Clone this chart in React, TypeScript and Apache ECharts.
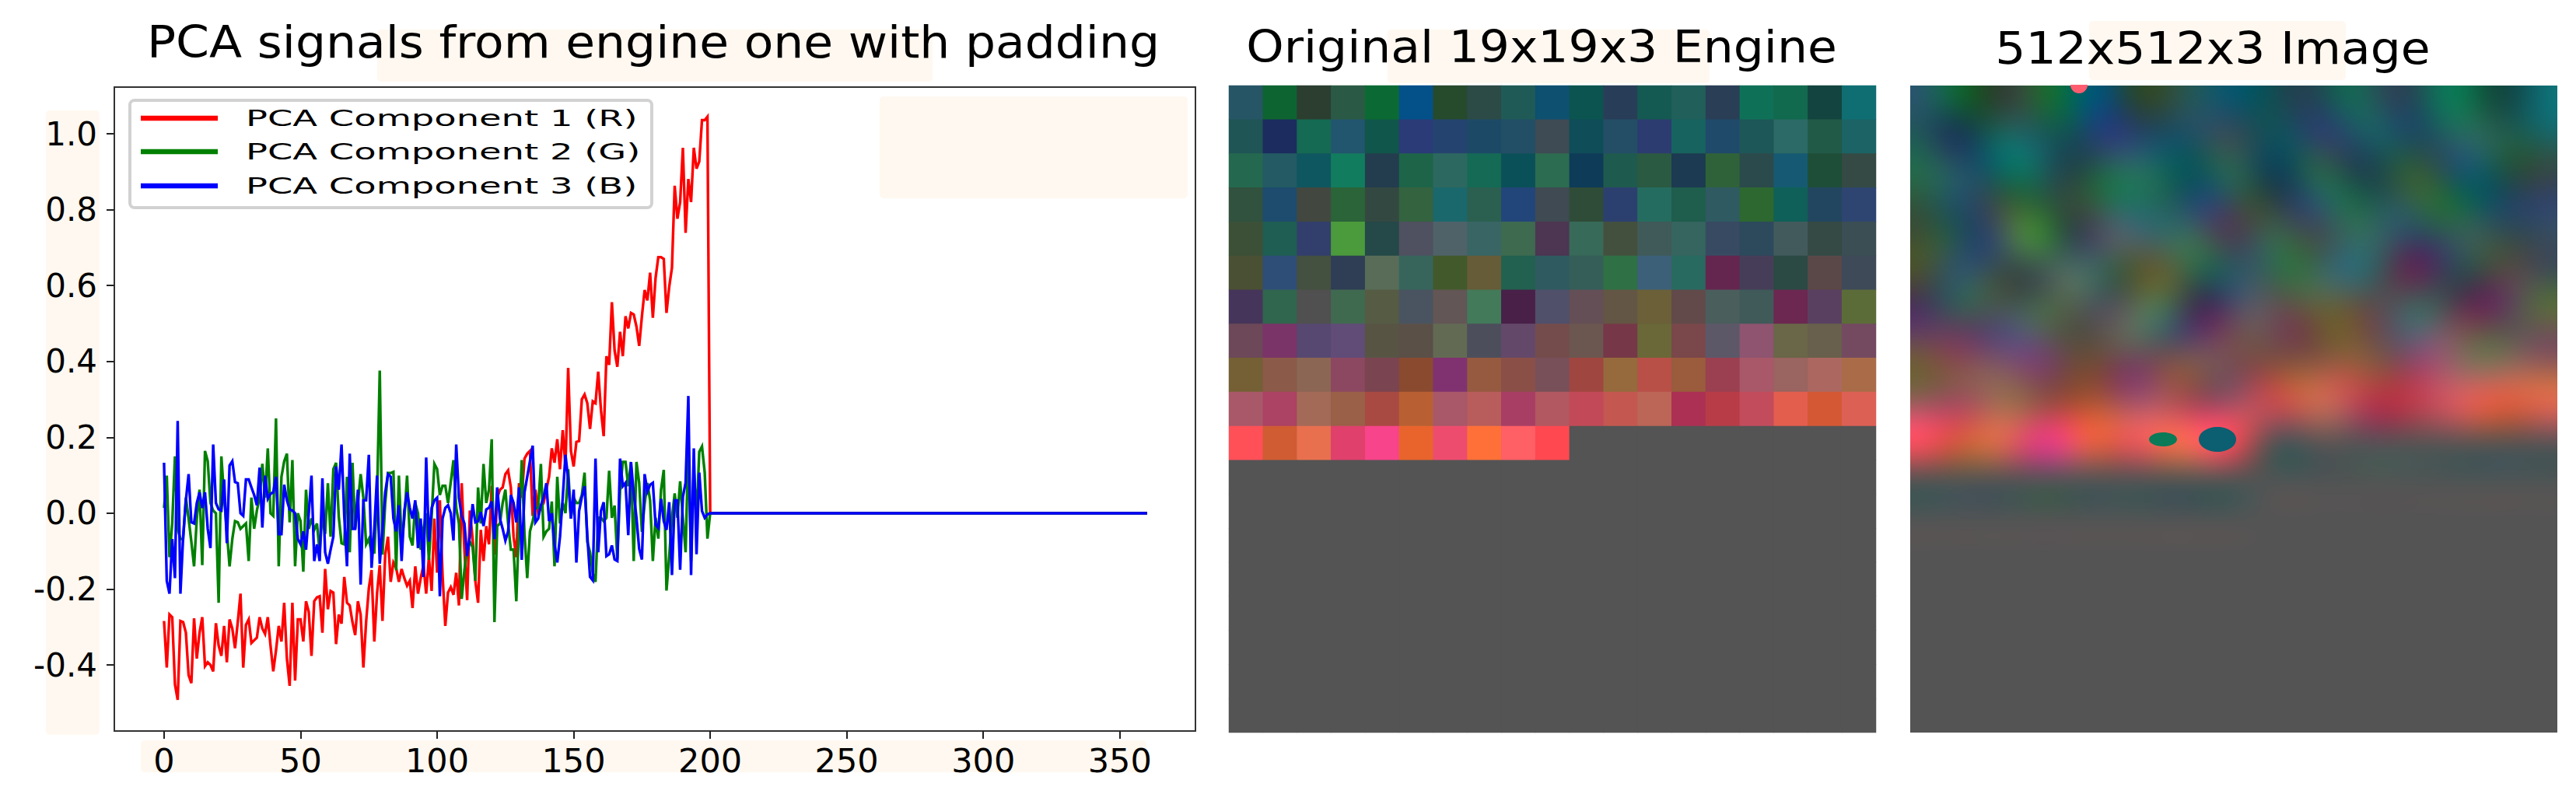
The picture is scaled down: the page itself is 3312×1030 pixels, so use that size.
import React, { useEffect, useRef } from "react";
import * as echarts from "echarts";

const panelTitles = ["PCA signals from engine one with padding", "Original 19x19x3 Engine", "512x512x3 Image"];
const seriesNames = ["PCA Component 1 (R)", "PCA Component 2 (G)", "PCA Component 3 (B)"];
const seriesColors = ["#ff0000", "#008000", "#0000ff"];
const xTickValues = [0, 50, 100, 150, 200, 250, 300, 350];
const yTickValues = [-0.4, -0.2, 0, 0.2, 0.4, 0.6, 0.8, 1.0];

const component1 = [
  -.284,-.407,-.267,-.274,-.451,-.492,-.284,-.287,-.315,-.427,-.448,-.277,-.383,-.315,-.274,-.403,-.393,-.400,-.417,-.290,
  -.349,-.376,-.297,-.393,-.280,-.304,-.356,-.287,-.212,-.407,-.294,-.280,-.342,-.335,-.328,-.274,-.304,-.318,-.274,-.349,
  -.417,-.362,-.297,-.338,-.236,-.383,-.455,-.236,-.441,-.280,-.280,-.338,-.232,-.260,-.376,-.232,-.222,-.219,-.315,-.147,
  -.253,-.205,-.209,-.345,-.267,-.291,-.168,-.236,-.243,-.287,-.321,-.232,-.267,-.407,-.287,-.198,-.150,-.338,-.212,-.137,
  -.284,-.109,-.062,-.181,-.130,-.144,-.181,-.147,-.171,-.191,-.178,-.250,-.140,-.212,-.171,-.137,-.212,-.116,-.205,-.014,
  -.157,.034,-.164,-.297,-.209,-.195,-.215,-.157,-.243,.079,-.096,-.229,.007,-.068,-.178,-.236,-.044,-.126,-.034,-.082,
  .072,-.109,.041,.062,.068,.103,.113,.068,-.062,-.116,.079,.041,.144,.157,.164,-.007,.062,0,.014,.027,
  .062,.096,.171,.133,.195,.116,.219,.123,.383,.164,.123,.188,.190,.300,.313,.290,.222,.295,.290,.373,
  .272,.203,.414,.391,.556,.428,.386,.478,.414,.519,.487,.528,.524,.492,.441,.519,.588,.561,.634,.515,
  .620,.675,.675,.670,.528,.597,.647,.863,.776,.820,.963,.739,.881,.820,.963,.908,.927,1.036,1.036,1.045,
];
const component2 = [
  .014,.099,-.116,-.027,.150,-.041,-.068,-.068,.041,-.014,-.075,-.140,-.014,.062,-.137,.164,.137,.027,.007,0,
  -.236,.150,.041,-.048,-.140,-.068,-.021,-.024,-.041,-.034,-.027,-.126,.041,-.041,.007,.041,.130,.041,.171,0,
  -.007,.250,-.140,.096,.137,.157,-.024,.140,-.140,0,-.021,-.154,.062,-.041,-.014,-.044,-.027,-.103,0,-.055,
  .079,-.062,.116,.133,-.010,-.079,-.082,.096,-.103,.133,-.041,.027,.103,.041,-.082,-.068,-.103,-.103,.041,.376,
  -.109,.027,.106,.106,.109,-.150,.099,-.075,-.014,.099,-.062,-.085,.027,0,-.096,-.041,0,-.123,-.007,.130,
  .116,.048,.072,.072,.027,.082,.140,.014,-.027,-.226,-.150,-.096,-.075,-.089,-.178,.068,-.027,.130,.027,.062,
  .195,-.287,-.034,-.027,.027,.062,-.027,-.096,-.096,-.232,-.027,.140,-.055,-.171,-.048,-.021,.014,.014,.130,-.062,
  -.048,-.041,.031,-.140,.096,-.027,.027,0,.116,-.014,.041,.027,.027,.048,.107,-.076,-.103,-.158,-.181,-.012,
  -.012,-.021,-.012,.112,-.012,.020,-.122,.061,.135,.135,.071,.135,-.126,.135,.080,-.049,.025,.080,.034,-.126,
  -.012,-.067,.061,.114,-.204,-.113,-.012,.052,-.012,.084,-.012,-.103,.180,-.126,.116,-.012,.162,.176,.107,-.067,
];
const component3 = [
  .133,-.178,-.212,-.068,-.171,.243,-.212,-.062,.034,.103,-.024,-.027,.027,.055,.014,.055,-.041,-.092,.181,.027,
  .010,.007,.089,-.079,.126,.137,.082,.079,0,-.007,.089,.089,.068,.048,.021,.120,-.038,.099,.038,.051,
  .055,.096,-.055,-.055,.075,.034,.010,.007,0,-.068,-.082,-.048,-.096,0,.099,-.126,-.082,-.126,.092,-.103,
  -.133,-.096,-.062,.123,.062,.181,-.007,-.140,.157,-.041,-.041,.062,-.188,.034,.034,.154,-.144,-.041,.099,-.133,
  -.041,.055,.103,.096,-.014,-.048,.021,-.126,.007,.055,.014,-.014,.034,-.092,-.014,-.168,.147,-.075,.014,.034,
  .041,-.219,-.014,.014,.021,0,-.072,.181,.041,-.007,-.027,-.113,-.062,.024,-.024,-.021,.003,-.034,.010,.014,
  .031,-.068,.068,-.014,-.041,-.072,-.048,.048,.027,-.024,.068,-.123,.055,.096,.137,.178,-.024,-.014,.021,.041,
  .079,-.021,0,-.082,-.130,-.062,.041,.154,.089,-.014,.062,-.130,.006,.043,.071,-.058,-.168,-.177,.144,-.103,
  .006,.029,-.113,-.108,-.085,-.122,-.126,.144,.071,.080,-.058,.135,.052,-.012,-.094,-.122,.103,.057,.075,.080,
  -.030,-.039,.038,-.021,-.044,.029,-.163,.034,.034,-.149,.043,.080,.309,-.163,.171,-.108,.107,.006,-.012,-.003,
];
const paddingLength = 161;

const P = "#545454";
const engineColors = [
  ["#265666","#0d6431","#2b3e30","#2a5a45","#0b6a33","#045089","#264a2c","#2c4a46","#1f5a56","#0d5070","#0b5450","#283e58","#155a52","#205f5a","#2a3e55","#0f7058","#116a4e","#13443f","#0f6e72"],
  ["#1f5555","#1c2c5e","#146a52","#22556e","#10564a","#2a3b78","#24446f","#1c4a66","#224f66","#3e4a54","#0f4d58","#234e66","#2c3c70","#17635f","#1f4a6a","#1e5757","#2b6a66","#225a48","#1b6365"],
  ["#24694f","#235a64","#0e5660","#117c5e","#233d4e","#1d6448","#2d6860","#146a55","#0a5058","#2c6c50","#0d3b58","#1f5a4e","#2b5a42","#1c3a52","#2f6238","#2b4a4c","#155a72","#1f4e38","#354a44"],
  ["#30523e","#1d4c6e","#42483f","#2b6438","#344842","#34633f","#1b686c","#2b6050","#22467a","#3f4a52","#2f4c38","#2c4070","#246c5f","#1f5d4c","#2f5a62","#2c6830","#0f6058","#234660","#2d4570"],
  ["#3c5038","#1f5e52","#323f6c","#4b9a3c","#254848","#4f5060","#4f6268","#396565","#3e6a50","#4c3652","#376a58","#44503e","#3f5a58","#35655e","#384a62","#2c4a5c","#435a5c","#354a44","#3b4e54"],
  ["#4a5034","#2e4e78","#445040","#2f3e54","#586c58","#37655c","#42592c","#665c38","#22604f","#2f5a60","#355e58","#2f7044","#3c6078","#286a60","#64264f","#463e58","#2b4a44","#5a4848","#3f4a58"],
  ["#46355a","#30664e","#505050","#406a50","#565c44","#4a5460","#635656","#427a5a","#482048","#50506a","#644f56","#645644","#6b6038","#624a4a","#4a5e5c","#3f5a58","#6c2850","#5a4060","#5c6c38"],
  ["#6c4858","#7a3468","#564870","#614c78","#585444","#5a5048","#626a54","#4d4e5c","#64486a","#744c4c","#6c5650","#763848","#6a6838","#7a484a","#5c5868","#8e5470","#6a6648","#68604c","#744a60"],
  ["#746034","#8c5a48","#8c6654","#8c4860","#7a4450","#8a4a30","#803270","#965a40","#8a5048","#78505a","#a04640","#966a3c","#b85048","#9a5c3c","#9a4050","#a85868","#9a6460","#ac6860","#aa6c48"],
  ["#a85868","#ac4264","#a46a58","#9a6048","#a84a42","#b86034","#a85868","#b85c5c","#a83e64","#b25860","#c24a58","#c45850","#bc6658","#ac3054","#b83c48","#c24c5c","#e45e4e","#d45834","#dc6054"],
  ["#ff5058","#d05c34","#e8704e","#e0406c","#f8448a","#e8642c","#ee4c6e","#ff7038","#ff6066","#ff4850",P,P,P,P,P,P,P,P,P],
  [P,P,P,P,P,P,P,P,P,P,P,P,P,P,P,P,P,P,P],
  [P,P,P,P,P,P,P,P,P,P,P,P,P,P,P,P,P,P,P],
  [P,P,P,P,P,P,P,P,P,P,P,P,P,P,P,P,P,P,P],
  [P,P,P,P,P,P,P,P,P,P,P,P,P,P,P,P,P,P,P],
  [P,P,P,P,P,P,P,P,P,P,P,P,P,P,P,P,P,P,P],
  [P,P,P,P,P,P,P,P,P,P,P,P,P,P,P,P,P,P,P],
  [P,P,P,P,P,P,P,P,P,P,P,P,P,P,P,P,P,P,P],
  [P,P,P,P,P,P,P,P,P,P,P,P,P,P,P,P,P,P,P],
];

const FONT = "DejaVu Sans";
const PATCH = "#fff8f0";

function withPadding(values: number[]) {
  const full = values.concat(new Array(paddingLength).fill(0));
  return full.map((v, i) => [i, v]);
}

function lanczos(t: number, a: number) {
  if (t === 0) return 1;
  if (Math.abs(t) >= a) return 0;
  const p = Math.PI * t;
  return (a * Math.sin(p) * Math.sin(p / a)) / (p * p);
}

function upscaled(colors: string[][], size: number) {
  const n = colors.length;
  const src = colors.map((row) =>
    row.map((c) => [parseInt(c.slice(1, 3), 16), parseInt(c.slice(3, 5), 16), parseInt(c.slice(5, 7), 16)])
  );
  const weights = (stretch: number, a: number) => {
    const out: [number, number][][] = [];
    for (let p = 0; p < size; p++) {
      const c = ((p + 0.5) * n) / size - 0.5;
      const list: [number, number][] = [];
      let total = 0;
      const reach = a * stretch;
      for (let k = Math.floor(c - reach); k <= Math.ceil(c + reach); k++) {
        const w = lanczos((k - c) / stretch, a);
        if (w !== 0) {
          list.push([Math.min(n - 1, Math.max(0, k)), w]);
          total += w;
        }
      }
      out.push(list.map(([k, w]) => [k, w / total] as [number, number]));
    }
    return out;
  };
  const wx = weights(1.25, 3);
  const wy = weights(1.18, 3);
  const rows = src.map((row) =>
    wx.map((list) => {
      const v = [0, 0, 0];
      for (const [k, w] of list) {
        v[0] += row[k][0] * w;
        v[1] += row[k][1] * w;
        v[2] += row[k][2] * w;
      }
      return v;
    })
  );
  const canvas = document.createElement("canvas");
  canvas.width = size;
  canvas.height = size;
  const ctx = canvas.getContext("2d")!;
  const img = ctx.createImageData(size, size);
  for (let y = 0; y < size; y++) {
    for (let x = 0; x < size; x++) {
      const v = [0, 0, 0];
      for (const [k, w] of wy[y]) {
        v[0] += rows[k][x][0] * w;
        v[1] += rows[k][x][1] * w;
        v[2] += rows[k][x][2] * w;
      }
      const o = (y * size + x) * 4;
      img.data[o] = v[0];
      img.data[o + 1] = v[1];
      img.data[o + 2] = v[2];
      img.data[o + 3] = 255;
    }
  }
  ctx.putImageData(img, 0, 0);
  return canvas.toDataURL("image/png");
}

export default function App() {
  const ref = useRef<HTMLDivElement>(null);
  useEffect(() => {
    const chart = echarts.init(ref.current!, null, { renderer: "svg" });
    const patch = (x: number, y: number, width: number, height: number) => ({
      type: "rect",
      z: -5,
      silent: true,
      shape: { x, y, width, height, r: 5 },
      style: { fill: PATCH },
    });
    const titleText = (i: number, x: number, y: number) => ({
      type: "text",
      z: 10,
      silent: true,
      x,
      y,
      scaleX: 1.08,
      style: { text: panelTitles[i], fill: "#000", fontFamily: FONT, fontSize: 57, align: "center", verticalAlign: "middle" },
    });
    const legendY = [152, 195, 239];
    const palette: string[] = [];
    const cells: number[][] = [];
    engineColors.forEach((row, r) =>
      row.forEach((color, c) => {
        let idx = palette.indexOf(color);
        if (idx < 0) {
          palette.push(color);
          idx = palette.length - 1;
        }
        cells.push([c, r, idx]);
      })
    );
    const seq19 = engineColors.map((_, i) => String(i));
    chart.setOption({
      animation: false,
      backgroundColor: "#ffffff",
      grid: [
        { left: 147, top: 112, width: 1390, height: 828, show: true, borderColor: "#333333", borderWidth: 2, backgroundColor: "transparent" },
        { left: 1580, top: 110, width: 832, height: 832, show: true, borderWidth: 0, backgroundColor: P },
      ],
      xAxis: [
        {
          type: "value", gridIndex: 0, min: -18.2, max: 377.7,
          splitLine: { show: false }, axisLine: { show: false, onZero: false },
          axisTick: { show: true, length: 10, lineStyle: { color: "#222", width: 2 }, customValues: xTickValues },
          axisLabel: { margin: 16, fontFamily: FONT, fontSize: 43, color: "#000", customValues: xTickValues },
        },
        { type: "category", gridIndex: 1, data: seq19, show: false },
      ],
      yAxis: [
        {
          type: "value", gridIndex: 0, min: -0.574, max: 1.123,
          splitLine: { show: false }, axisLine: { show: false, onZero: false },
          axisTick: { show: true, length: 10, lineStyle: { color: "#222", width: 2 }, customValues: yTickValues },
          axisLabel: { margin: 22, fontFamily: FONT, fontSize: 42, color: "#000", customValues: yTickValues, formatter: (v: number) => v.toFixed(1) },
        },
        { type: "category", gridIndex: 1, data: seq19, inverse: true, show: false },
      ],
      visualMap: {
        type: "piecewise",
        show: false,
        seriesIndex: 3,
        dimension: 2,
        pieces: palette.map((color, i) => ({ value: i, color })),
      },
      series: [
        ...[component1, component2, component3].map((values, i) => ({
          type: "line",
          name: seriesNames[i],
          xAxisIndex: 0,
          yAxisIndex: 0,
          data: withPadding(values),
          showSymbol: false,
          lineStyle: { color: seriesColors[i], width: 3.4, join: "miter" },
          itemStyle: { color: seriesColors[i] },
        })),
        {
          type: "heatmap",
          name: panelTitles[1],
          xAxisIndex: 1,
          yAxisIndex: 1,
          data: cells,
        },
      ],
      graphic: {
        elements: [
          patch(485, 38, 714, 67),
          patch(1784, 38, 414, 69),
          patch(2686, 27, 330, 76),
          patch(1131, 124, 396, 131),
          patch(59, 142, 69, 803),
          patch(181, 952, 1293, 41),
          titleText(0, 840, 54),
          titleText(1, 1982, 60),
          titleText(2, 2845, 62),
          {
            type: "image",
            z: 1,
            silent: true,
            style: { image: upscaled(engineColors, 512), x: 2456, y: 110, width: 832, height: 832 },
          },
          { type: "ellipse", z: 2, silent: true, shape: { cx: 2781, cy: 565, rx: 18, ry: 9 }, style: { fill: "#0a7a58" } },
          { type: "ellipse", z: 2, silent: true, shape: { cx: 2851, cy: 565, rx: 24, ry: 16 }, style: { fill: "#0b5f70" } },
          { type: "sector", z: 2, silent: true, shape: { cx: 2673, cy: 109, r: 11, r0: 0, startAngle: 0, endAngle: Math.PI }, style: { fill: "#ff5c70" } },
          {
            type: "rect", z: 50, silent: true,
            shape: { x: 167, y: 129, width: 671, height: 138, r: 6 },
            style: { fill: "#ffffff", stroke: "#d2d2d2", lineWidth: 4 },
          },
          ...seriesNames.flatMap((name, i) => [
            {
              type: "line", z: 51, silent: true,
              shape: { x1: 181, y1: legendY[i], x2: 280, y2: legendY[i] },
              style: { stroke: seriesColors[i], lineWidth: 6.5 },
            },
            {
              type: "text", z: 51, silent: true,
              x: 316, y: legendY[i], scaleX: 1.6, scaleY: 1,
              style: { text: name, fill: "#000", fontFamily: FONT, fontSize: 29, verticalAlign: "middle" },
            },
          ]),
        ],
      },
    });
    return () => chart.dispose();
  }, []);
  return <div ref={ref} style={{ position: "fixed", left: 0, top: 0, width: 3312, height: 1030 }} />;
}
